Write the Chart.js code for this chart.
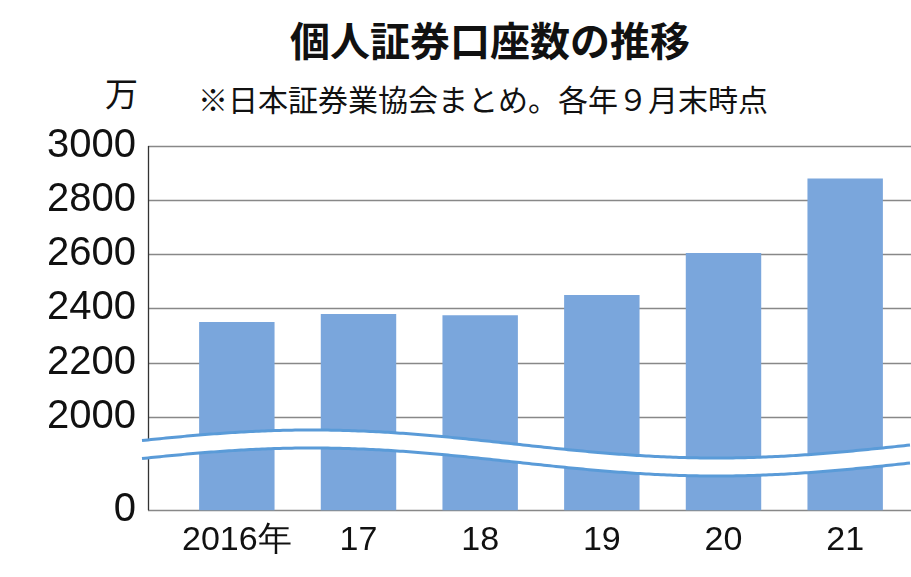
<!DOCTYPE html>
<html><head><meta charset="utf-8">
<script src="https://cdn.jsdelivr.net/npm/chart.js@4"></script>
<style>body{margin:0;background:#fff}#w{width:911px;height:577px;position:relative}
.t{position:absolute;font-family:"Noto Sans CJK JP";color:#111;white-space:nowrap}</style></head>
<body><div id="w">
<div class="t" style="left:290px;top:10px;font-size:40px;font-weight:bold">個人証券口座数の推移</div>
<div class="t" style="left:105px;top:68px;font-size:33px">万</div>
<div class="t" style="left:198px;top:76px;font-size:30px">※日本証券業協会まとめ。各年９月末時点</div>
<canvas id="c" width="911" height="577" style="position:absolute;left:0;top:0"></canvas></div>
<script>
const categories=["2016年","17","18","19","20","21"];
const values=[2350,2380,2375,2450,2605,2880];
const tickValues=[1655,2000,2200,2400,2600,2800,3000];
const tickLabels=["0","2000","2200","2400","2600","2800","3000"];
const deco={id:'deco',beforeDatasetsDraw(ch){const c=ch.ctx,y=ch.scales.y,r=ch.width;
c.save();c.strokeStyle='#888';c.lineWidth=1.3;
tickValues.forEach(v=>{const p=Math.round(y.getPixelForValue(v))+.5;c.beginPath();c.moveTo(148,p);c.lineTo(r,p);c.stroke();});
c.strokeStyle='#333';c.beginPath();c.moveTo(148.5,y.getPixelForValue(3000));c.lineTo(148.5,y.getPixelForValue(1655));c.stroke();c.restore();},
afterDatasetsDraw(ch){const c=ch.ctx,r=ch.width;c.save();
const f=x=>-14*Math.sin((x-142)/(r-142)*2*Math.PI*0.95+0.25);
const wave=(off)=>{c.beginPath();for(let x=142;x<=r;x+=3){const yy=452+off+f(x);x==142?c.moveTo(x,yy):c.lineTo(x,yy);}};
c.fillStyle='#fff';c.beginPath();for(let x=142;x<=r;x+=3){c.lineTo(x,444+f(x));}
for(let x=r;x>=142;x-=3){c.lineTo(x,462+f(x));}c.fill();
c.strokeStyle='#5a9bd8';c.lineWidth=3;wave(-8);c.stroke();wave(10);c.stroke();c.restore();}};
new Chart(document.getElementById('c'),{type:'bar',data:{labels:categories,datasets:[{data:values,backgroundColor:'#7aa6dc',barPercentage:0.62,categoryPercentage:1}]},
options:{responsive:false,animation:false,layout:{padding:{top:146,right:5,bottom:14,left:0}},
plugins:{legend:{display:false},tooltip:{enabled:false}},
scales:{x:{grid:{display:false},border:{display:false},ticks:{color:'#111',font:{family:'Liberation Sans',size:34},padding:2}},
y:{min:1655,max:3000,afterTickToLabelConversion(s){s.ticks=tickValues.map((v,i)=>({value:v,label:tickLabels[i]}));},
afterFit(s){s.width=176;},grid:{display:false},border:{display:false},
ticks:{color:'#111',font:{family:'Liberation Sans',size:40},padding:32}}}},plugins:[deco]});
</script></body></html>
